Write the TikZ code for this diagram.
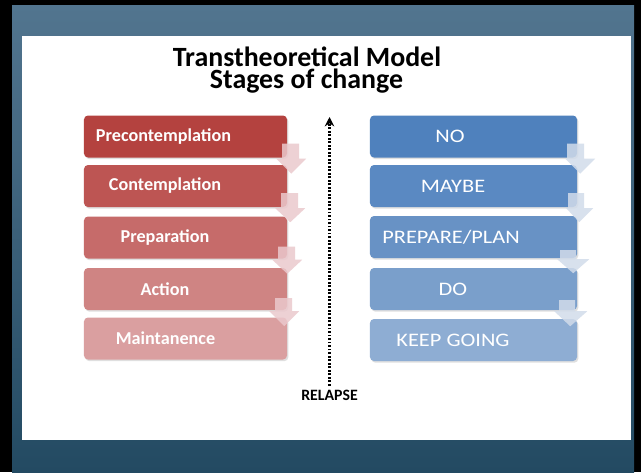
\documentclass[tikz,border=0pt]{standalone}
\usepackage{fontspec}
\setmainfont{Carlito}
\newfontfamily\widefont[FakeStretch=1.17]{Carlito}
\usetikzlibrary{arrows.meta,shadows}
\pgfdeclarelayer{background}
\pgfdeclarelayer{foreground}
\pgfsetlayers{background,main,foreground}

\definecolor{frametop}{HTML}{52758F}
\definecolor{framebot}{HTML}{234A62}
\definecolor{redA}{HTML}{B4423F}
\definecolor{redB}{HTML}{BD5553}
\definecolor{redC}{HTML}{C66B6A}
\definecolor{redD}{HTML}{CF8483}
\definecolor{redE}{HTML}{DA9FA0}
\definecolor{blueA}{HTML}{4F81BD}
\definecolor{blueB}{HTML}{5A89C2}
\definecolor{blueC}{HTML}{6892C5}
\definecolor{blueD}{HTML}{7A9FCB}
\definecolor{blueE}{HTML}{8EADD3}
\definecolor{lchevcol}{HTML}{EBC9CD}
\definecolor{rchevcol}{HTML}{D2DCEA}

\tikzset{
  stagebox/.style={rectangle, rounded corners=0.12cm, minimum width=6.09cm,
    minimum height=1.26cm, inner sep=0pt,
    drop shadow={shadow xshift=0.04cm, shadow yshift=-0.05cm, opacity=0.25}},
  lstage/.style={stagebox, minimum width=6.09cm},
  rstage/.style={stagebox, minimum width=6.21cm},
  ltext/.style={text=white, font=\fontsize{15.5}{18}\selectfont\bfseries},
  rtext/.style={text=white, font=\widefont\fontsize{16.3}{19}\selectfont},
  titletext/.style={anchor=base, inner sep=0pt, font=\fontsize{23.8}{24}\selectfont\bfseries},
  lchev/.style={fill=lchevcol, opacity=0.85},
  rchev/.style={fill=rchevcol, opacity=0.85}
}

\begin{document}
\begin{tikzpicture}[x=0.03cm, y=-0.03cm]
\begin{pgfonlayer}{background}
\fill[black] (0,0) rectangle (641,472);
\shade[top color=frametop, bottom color=framebot] (12,5) rectangle (634,472);
\fill[white] (22,36) rectangle (631,440);
\end{pgfonlayer}

% title
\node[titletext] (title) at (307,66.5) {Transtheoretical Model};
\node[titletext] (subtitle) at (306.5,88.5) {Stages of change};

% stages, left column
\node[lstage, fill=redA] (pre) at (185.5,136.5) {};
\node[lstage, fill=redB] (con) at (185.5,186) {};
\node[lstage, fill=redC] (prep) at (185.5,237.5) {};
\node[lstage, fill=redD] (act) at (185.5,289) {};
\node[lstage, fill=redE] (main) at (185.5,338.5) {};
\node[ltext] (preT) at (163.5,136.5) {Precontemplation};
\node[ltext] (conT) at (165,186) {Contemplation};
\node[ltext] (prepT) at (165,237.5) {Preparation};
\node[ltext] (actT) at (165,289) {Action};
\node[ltext] (mainT) at (165.5,338.5) {Maintanence};

% stages, right column
\node[rstage, fill=blueA] (no) at (473.5,136.5) {};
\node[rstage, fill=blueB] (maybe) at (473.5,186) {};
\node[rstage, fill=blueC] (plan) at (473.5,237) {};
\node[rstage, fill=blueD] (do) at (473.5,289) {};
\node[rstage, fill=blueE] (keep) at (473.5,340) {};
\node[rtext] (noT) at (450,136.5) {NO};
\node[rtext] (maybeT) at (453,186) {MAYBE};
\node[rtext] (planT) at (451,237) {PREPARE/PLAN};
\node[rtext] (doT) at (453,289) {DO};
\node[rtext] (keepT) at (453,340) {KEEP GOING};

\begin{pgfonlayer}{foreground}
% down chevrons between the stages
\fill[lchev, shift={(pre.south east)}] (-5,-14) -- (12,-14) -- (12,1) -- (19,1) -- (4,16) -- (-11,1) -- (-5,1) -- cycle;
\fill[lchev, shift={(con.south east)}] (-6,-14) -- (11,-14) -- (11,1) -- (18,1) -- (3,15) -- (-12,1) -- (-6,1) -- cycle;
\fill[lchev, shift={(prep.south east)}] (-9,-12) -- (8,-12) -- (8,1) -- (15,1) -- (0,15) -- (-15,1) -- (-9,1) -- cycle;
\fill[lchev, shift={(act.south east)}] (-12,-12) -- (5,-12) -- (5,1) -- (12,1) -- (-3,16) -- (-18,1) -- (-12,1) -- cycle;
\fill[rchev, shift={(no.south east)}] (-10,-14) -- (7,-14) -- (7,1) -- (18,1) -- (3,16) -- (-12,1) -- (-10,1) -- cycle;
\fill[rchev, shift={(maybe.south east)}] (-9,-14) -- (7,-14) -- (7,1) -- (16,1) -- (2,15) -- (-11,1) -- (-9,1) -- cycle;
\fill[rchev, shift={(plan.south east)}] (-17,-8) -- (-1,-8) -- (-1,1) -- (12,1) -- (-4,15) -- (-20,1) -- (-17,1) -- cycle;
\fill[rchev, shift={(do.south east)}] (-18,-10) -- (-2,-10) -- (-2,1) -- (10,1) -- (-7,16) -- (-23,1) -- (-18,1) -- cycle;
\end{pgfonlayer}

% relapse arrow
\node[font=\fontsize{13.5}{16}\selectfont\bfseries] (relapse) at (329.5,395) {RELAPSE};
\coordinate (up) at (329.5,117);
\draw[line width=2.2pt, dash pattern=on 1.6pt off 1.4pt,
  -{Stealth[length=8pt,width=8pt]}] (relapse.north) -- (up);
\end{tikzpicture}
\end{document}
